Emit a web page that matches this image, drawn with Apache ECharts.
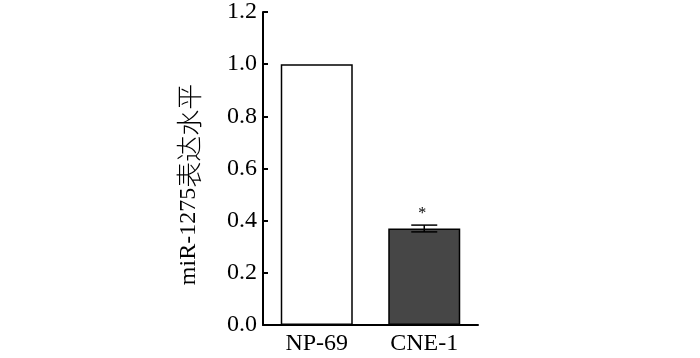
<!DOCTYPE html>
<html><head><meta charset="utf-8">
<script src="https://cdn.jsdelivr.net/npm/echarts@6/dist/echarts.min.js"></script>
<style>html,body{margin:0;padding:0;background:#fff}#c{width:700px;height:358px}</style>
</head><body><div id="c"></div>
<script>
var categories = ['NP-69', 'CNE-1'];
var values = [1.0, 0.37];
var errors = [0, 0.013];
var marks = ['', '*'];
var yTicks = [0, 0.2, 0.4, 0.6, 0.8, 1.0, 1.2];
var yNameLatin = 'miR-1275';
var yNameCJK = '表达水平';

var fillColors = ['#ffffff', '#464646'];
var font = '"Liberation Serif","Times New Roman",serif';
var chart = echarts.init(document.getElementById('c'));
chart.setOption({
  animation: false,
  grid: {left: 263, right: 222, top: 10, bottom: 33},
  xAxis: {
    type: 'category', data: categories,
    axisLine: {lineStyle: {color: '#000', width: 2}},
    axisTick: {show: false},
    axisLabel: {color: '#000', fontFamily: font, fontSize: 24, margin: 7}
  },
  yAxis: {
    type: 'value', min: yTicks[0], max: yTicks[yTicks.length - 1], interval: 0.2,
    name: '{a|' + yNameLatin + '}{b|' + yNameCJK + '}',
    nameLocation: 'middle', nameGap: 61, nameRotate: 90,
    nameTextStyle: {color: '#000', padding: [0, 32, 0, 0],
      rich: {
        a: {fontFamily: font, fontSize: 24, color: '#000'},
        b: {fontFamily: '"Noto Sans CJK SC", sans-serif', fontSize: 26, fontWeight: 300, color: '#000'}
      }},
    axisLine: {show: true, lineStyle: {color: '#000', width: 2}},
    axisTick: {show: true, inside: true, length: 5, lineStyle: {color: '#000', width: 2}},
    splitLine: {show: false},
    axisLabel: {color: '#000', fontFamily: font, fontSize: 24, margin: 6,
      formatter: function (v) { return v.toFixed(1); }}
  },
  series: [{
    type: 'bar', barWidth: 72,
    data: values.map(function (v, i) {
      return {value: v, itemStyle: {color: fillColors[i], borderColor: '#000', borderWidth: 1.5}};
    })
  }, {
    type: 'custom',
    data: values.map(function (v, i) { return [i, v, errors[i]]; }),
    renderItem: function (params, api) {
      var i = api.value(0), v = api.value(1), e = api.value(2);
      var children = [];
      var style = {stroke: '#000', lineWidth: 1.5};
      if (e > 0) {
        var top = api.coord([i, v + e]), bot = api.coord([i, v - e]);
        var hw = 13;
        children.push({type: 'line', shape: {x1: top[0], y1: top[1], x2: bot[0], y2: bot[1]}, style: style});
        children.push({type: 'line', shape: {x1: top[0] - hw, y1: top[1], x2: top[0] + hw, y2: top[1]}, style: style});
        children.push({type: 'line', shape: {x1: bot[0] - hw, y1: bot[1], x2: bot[0] + hw, y2: bot[1]}, style: style});
      }
      var m = marks[params.dataIndex];
      if (m) {
        var p = api.coord([i, v + e]);
        children.push({type: 'text', style: {text: m, x: p[0] - 2, y: p[1] - 3, align: 'center', verticalAlign: 'bottom',
          fill: '#000', font: '16px ' + font}});
      }
      return {type: 'group', children: children};
    },
    z: 5
  }]
});
</script></body></html>
